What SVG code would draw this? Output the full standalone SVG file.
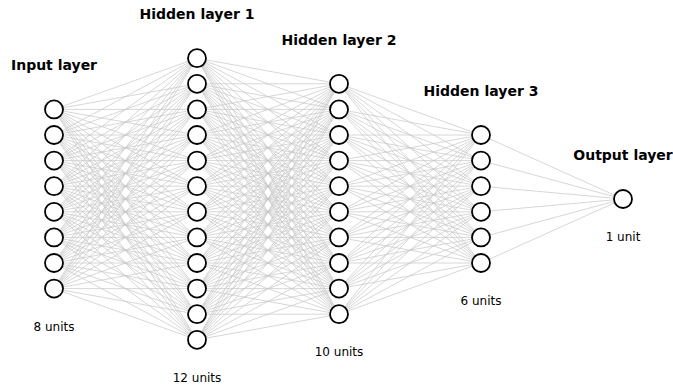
<svg xmlns="http://www.w3.org/2000/svg" width="673" height="386" viewBox="0 0 673 386">
  <style>
    .edge { fill: none; stroke: #c6c6c6; stroke-width: 0.7; }
    .unit { fill: #ffffff; stroke: #000000; stroke-width: 1.8; }
    .title { font-family: "DejaVu Sans", "Liberation Sans", sans-serif; font-size: 14px; font-weight: bold; text-anchor: middle; fill: #000; }
    .count { font-family: "DejaVu Sans", "Liberation Sans", sans-serif; font-size: 12px; text-anchor: middle; fill: #000; }
  </style>
  <defs>
    <circle id="neuron" r="9" class="unit"/>
  </defs>
  <rect width="673" height="386" fill="#ffffff"/>

  <!-- fully connected weights between consecutive layers -->
  <g id="connectors">
    <path id="w-input-h1" class="edge" d="
      M54 109.4L197 58.2M54 109.4L197 83.8M54 109.4L197 109.4M54 109.4L197 135M54 109.4L197 160.6M54 109.4L197 186.2M54 109.4L197 211.8M54 109.4L197 237.4M54 109.4L197 263M54 109.4L197 288.6M54 109.4L197 314.2M54 109.4L197 339.8
      M54 135L197 58.2M54 135L197 83.8M54 135L197 109.4M54 135L197 135M54 135L197 160.6M54 135L197 186.2M54 135L197 211.8M54 135L197 237.4M54 135L197 263M54 135L197 288.6M54 135L197 314.2M54 135L197 339.8
      M54 160.6L197 58.2M54 160.6L197 83.8M54 160.6L197 109.4M54 160.6L197 135M54 160.6L197 160.6M54 160.6L197 186.2M54 160.6L197 211.8M54 160.6L197 237.4M54 160.6L197 263M54 160.6L197 288.6M54 160.6L197 314.2M54 160.6L197 339.8
      M54 186.2L197 58.2M54 186.2L197 83.8M54 186.2L197 109.4M54 186.2L197 135M54 186.2L197 160.6M54 186.2L197 186.2M54 186.2L197 211.8M54 186.2L197 237.4M54 186.2L197 263M54 186.2L197 288.6M54 186.2L197 314.2M54 186.2L197 339.8
      M54 211.8L197 58.2M54 211.8L197 83.8M54 211.8L197 109.4M54 211.8L197 135M54 211.8L197 160.6M54 211.8L197 186.2M54 211.8L197 211.8M54 211.8L197 237.4M54 211.8L197 263M54 211.8L197 288.6M54 211.8L197 314.2M54 211.8L197 339.8
      M54 237.4L197 58.2M54 237.4L197 83.8M54 237.4L197 109.4M54 237.4L197 135M54 237.4L197 160.6M54 237.4L197 186.2M54 237.4L197 211.8M54 237.4L197 237.4M54 237.4L197 263M54 237.4L197 288.6M54 237.4L197 314.2M54 237.4L197 339.8
      M54 263L197 58.2M54 263L197 83.8M54 263L197 109.4M54 263L197 135M54 263L197 160.6M54 263L197 186.2M54 263L197 211.8M54 263L197 237.4M54 263L197 263M54 263L197 288.6M54 263L197 314.2M54 263L197 339.8
      M54 288.6L197 58.2M54 288.6L197 83.8M54 288.6L197 109.4M54 288.6L197 135M54 288.6L197 160.6M54 288.6L197 186.2M54 288.6L197 211.8M54 288.6L197 237.4M54 288.6L197 263M54 288.6L197 288.6M54 288.6L197 314.2M54 288.6L197 339.8"/>
    <path id="w-h1-h2" class="edge" d="
      M197 58.2L339 83.8M197 58.2L339 109.4M197 58.2L339 135M197 58.2L339 160.6M197 58.2L339 186.2M197 58.2L339 211.8M197 58.2L339 237.4M197 58.2L339 263M197 58.2L339 288.6M197 58.2L339 314.2
      M197 83.8L339 83.8M197 83.8L339 109.4M197 83.8L339 135M197 83.8L339 160.6M197 83.8L339 186.2M197 83.8L339 211.8M197 83.8L339 237.4M197 83.8L339 263M197 83.8L339 288.6M197 83.8L339 314.2
      M197 109.4L339 83.8M197 109.4L339 109.4M197 109.4L339 135M197 109.4L339 160.6M197 109.4L339 186.2M197 109.4L339 211.8M197 109.4L339 237.4M197 109.4L339 263M197 109.4L339 288.6M197 109.4L339 314.2
      M197 135L339 83.8M197 135L339 109.4M197 135L339 135M197 135L339 160.6M197 135L339 186.2M197 135L339 211.8M197 135L339 237.4M197 135L339 263M197 135L339 288.6M197 135L339 314.2
      M197 160.6L339 83.8M197 160.6L339 109.4M197 160.6L339 135M197 160.6L339 160.6M197 160.6L339 186.2M197 160.6L339 211.8M197 160.6L339 237.4M197 160.6L339 263M197 160.6L339 288.6M197 160.6L339 314.2
      M197 186.2L339 83.8M197 186.2L339 109.4M197 186.2L339 135M197 186.2L339 160.6M197 186.2L339 186.2M197 186.2L339 211.8M197 186.2L339 237.4M197 186.2L339 263M197 186.2L339 288.6M197 186.2L339 314.2
      M197 211.8L339 83.8M197 211.8L339 109.4M197 211.8L339 135M197 211.8L339 160.6M197 211.8L339 186.2M197 211.8L339 211.8M197 211.8L339 237.4M197 211.8L339 263M197 211.8L339 288.6M197 211.8L339 314.2
      M197 237.4L339 83.8M197 237.4L339 109.4M197 237.4L339 135M197 237.4L339 160.6M197 237.4L339 186.2M197 237.4L339 211.8M197 237.4L339 237.4M197 237.4L339 263M197 237.4L339 288.6M197 237.4L339 314.2
      M197 263L339 83.8M197 263L339 109.4M197 263L339 135M197 263L339 160.6M197 263L339 186.2M197 263L339 211.8M197 263L339 237.4M197 263L339 263M197 263L339 288.6M197 263L339 314.2
      M197 288.6L339 83.8M197 288.6L339 109.4M197 288.6L339 135M197 288.6L339 160.6M197 288.6L339 186.2M197 288.6L339 211.8M197 288.6L339 237.4M197 288.6L339 263M197 288.6L339 288.6M197 288.6L339 314.2
      M197 314.2L339 83.8M197 314.2L339 109.4M197 314.2L339 135M197 314.2L339 160.6M197 314.2L339 186.2M197 314.2L339 211.8M197 314.2L339 237.4M197 314.2L339 263M197 314.2L339 288.6M197 314.2L339 314.2
      M197 339.8L339 83.8M197 339.8L339 109.4M197 339.8L339 135M197 339.8L339 160.6M197 339.8L339 186.2M197 339.8L339 211.8M197 339.8L339 237.4M197 339.8L339 263M197 339.8L339 288.6M197 339.8L339 314.2"/>
    <path id="w-h2-h3" class="edge" d="
      M339 83.8L481 135M339 83.8L481 160.6M339 83.8L481 186.2M339 83.8L481 211.8M339 83.8L481 237.4M339 83.8L481 263
      M339 109.4L481 135M339 109.4L481 160.6M339 109.4L481 186.2M339 109.4L481 211.8M339 109.4L481 237.4M339 109.4L481 263
      M339 135L481 135M339 135L481 160.6M339 135L481 186.2M339 135L481 211.8M339 135L481 237.4M339 135L481 263
      M339 160.6L481 135M339 160.6L481 160.6M339 160.6L481 186.2M339 160.6L481 211.8M339 160.6L481 237.4M339 160.6L481 263
      M339 186.2L481 135M339 186.2L481 160.6M339 186.2L481 186.2M339 186.2L481 211.8M339 186.2L481 237.4M339 186.2L481 263
      M339 211.8L481 135M339 211.8L481 160.6M339 211.8L481 186.2M339 211.8L481 211.8M339 211.8L481 237.4M339 211.8L481 263
      M339 237.4L481 135M339 237.4L481 160.6M339 237.4L481 186.2M339 237.4L481 211.8M339 237.4L481 237.4M339 237.4L481 263
      M339 263L481 135M339 263L481 160.6M339 263L481 186.2M339 263L481 211.8M339 263L481 237.4M339 263L481 263
      M339 288.6L481 135M339 288.6L481 160.6M339 288.6L481 186.2M339 288.6L481 211.8M339 288.6L481 237.4M339 288.6L481 263
      M339 314.2L481 135M339 314.2L481 160.6M339 314.2L481 186.2M339 314.2L481 211.8M339 314.2L481 237.4M339 314.2L481 263"/>
    <path id="w-h3-out" class="edge" d="
      M481 135L623 199M481 160.6L623 199M481 186.2L623 199M481 211.8L623 199M481 237.4L623 199M481 263L623 199"/>
  </g>

  <!-- input layer: 8 units -->
  <g id="input-layer">
    <text class="title" x="54" y="70">Input layer</text>
    <use href="#neuron" x="54" y="109.4"/>
    <use href="#neuron" x="54" y="135"/>
    <use href="#neuron" x="54" y="160.6"/>
    <use href="#neuron" x="54" y="186.2"/>
    <use href="#neuron" x="54" y="211.8"/>
    <use href="#neuron" x="54" y="237.4"/>
    <use href="#neuron" x="54" y="263"/>
    <use href="#neuron" x="54" y="288.6"/>
    <text class="count" x="54" y="330.5">8 units</text>
  </g>

  <!-- hidden layer 1: 12 units -->
  <g id="hidden-layer-1">
    <text class="title" x="197" y="19.3">Hidden layer 1</text>
    <use href="#neuron" x="197" y="58.2"/>
    <use href="#neuron" x="197" y="83.8"/>
    <use href="#neuron" x="197" y="109.4"/>
    <use href="#neuron" x="197" y="135"/>
    <use href="#neuron" x="197" y="160.6"/>
    <use href="#neuron" x="197" y="186.2"/>
    <use href="#neuron" x="197" y="211.8"/>
    <use href="#neuron" x="197" y="237.4"/>
    <use href="#neuron" x="197" y="263"/>
    <use href="#neuron" x="197" y="288.6"/>
    <use href="#neuron" x="197" y="314.2"/>
    <use href="#neuron" x="197" y="339.8"/>
    <text class="count" x="197" y="381.5">12 units</text>
  </g>

  <!-- hidden layer 2: 10 units -->
  <g id="hidden-layer-2">
    <text class="title" x="339" y="44.8">Hidden layer 2</text>
    <use href="#neuron" x="339" y="83.8"/>
    <use href="#neuron" x="339" y="109.4"/>
    <use href="#neuron" x="339" y="135"/>
    <use href="#neuron" x="339" y="160.6"/>
    <use href="#neuron" x="339" y="186.2"/>
    <use href="#neuron" x="339" y="211.8"/>
    <use href="#neuron" x="339" y="237.4"/>
    <use href="#neuron" x="339" y="263"/>
    <use href="#neuron" x="339" y="288.6"/>
    <use href="#neuron" x="339" y="314.2"/>
    <text class="count" x="339" y="356">10 units</text>
  </g>

  <!-- hidden layer 3: 6 units -->
  <g id="hidden-layer-3">
    <text class="title" x="481" y="96">Hidden layer 3</text>
    <use href="#neuron" x="481" y="135"/>
    <use href="#neuron" x="481" y="160.6"/>
    <use href="#neuron" x="481" y="186.2"/>
    <use href="#neuron" x="481" y="211.8"/>
    <use href="#neuron" x="481" y="237.4"/>
    <use href="#neuron" x="481" y="263"/>
    <text class="count" x="481" y="305">6 units</text>
  </g>

  <!-- output layer: 1 unit -->
  <g id="output-layer">
    <text class="title" x="623" y="160">Output layer</text>
    <use href="#neuron" x="623" y="199"/>
    <text class="count" x="623" y="241">1 unit</text>
  </g>
</svg>
